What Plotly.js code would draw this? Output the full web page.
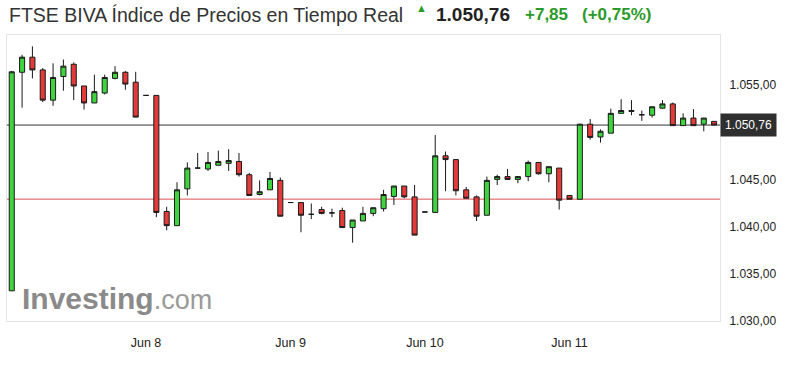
<!DOCTYPE html>
<html>
<head>
<meta charset="utf-8">
<script src="https://cdn.plot.ly/plotly-3.0.1.min.js"></script>
<style>
  html, body { margin: 0; padding: 0; background: #fff; }
  #chart { width: 795px; height: 369px; }
</style>
</head>
<body>
<div id="chart"></div>
<script>
// ---- Data (30-minute candles, Jun 5 – Jun 11) ----
const candleIndex = Array.from({length: 69}, (_, i) => i);
const openVals = [
  1033.2, 1056.35, 1057.95, 1056.6, 1053.4, 1055.9, 1057.2, 1054.9, 1053.1, 1054.15,
  1055.7, 1056.35, 1055.3, 1053.9, 1053.9, 1041.6, 1040.1, 1044.0, 1046.2, 1046.1,
  1046.5, 1046.7, 1046.9, 1045.5, 1043.4, 1043.9, 1044.9, 1042.55, 1042.55, 1041.3,
  1041.8, 1041.45, 1041.7, 1039.9, 1040.6, 1041.4, 1041.9, 1043.2, 1044.3, 1043.15,
  1041.55, 1041.5, 1047.5, 1047.1, 1043.9, 1043.15, 1041.2, 1045.0, 1045.3, 1045.0,
  1045.3, 1046.8, 1045.6, 1046.2, 1043.3, 1042.9, 1050.85, 1049.5, 1049.9, 1052.0,
  1052.2, 1051.85, 1051.8, 1052.55, 1053.0, 1050.7, 1051.5, 1050.85, 1051.15
];
const highVals = [
  1056.5, 1058.2, 1059.1, 1056.8, 1057.3, 1057.7, 1057.4, 1054.9, 1056.1, 1056.1,
  1057.0, 1056.5, 1056.4, 1053.9, 1053.9, 1042.1, 1044.7, 1046.8, 1047.8, 1047.9,
  1048.05, 1048.2, 1047.8, 1045.7, 1044.9, 1045.8, 1045.2, 1042.55, 1042.55, 1042.45,
  1042.1, 1041.9, 1042.0, 1040.7, 1042.1, 1042.0, 1043.9, 1044.3, 1044.3, 1044.4,
  1041.55, 1049.7, 1047.95, 1047.1, 1044.2, 1043.3, 1045.3, 1045.5, 1046.1, 1045.3,
  1047.0, 1046.8, 1046.35, 1046.2, 1043.3, 1050.9, 1051.4, 1050.3, 1052.5, 1053.5,
  1053.4, 1052.3, 1052.7, 1053.4, 1053.15, 1052.0, 1052.45, 1051.5, 1051.15
];
const lowVals = [
  1033.2, 1052.6, 1055.7, 1053.2, 1052.8, 1054.4, 1053.4, 1052.4, 1053.1, 1054.0,
  1055.6, 1054.5, 1051.6, 1053.9, 1041.0, 1039.6, 1040.1, 1043.3, 1046.2, 1045.9,
  1046.5, 1045.9, 1045.3, 1043.3, 1043.3, 1043.9, 1041.1, 1042.55, 1039.4, 1040.8,
  1041.3, 1041.0, 1039.9, 1038.3, 1040.6, 1041.1, 1041.6, 1042.3, 1043.0, 1039.1,
  1041.55, 1041.5, 1043.75, 1043.3, 1043.0, 1040.6, 1041.2, 1044.4, 1045.0, 1044.6,
  1044.8, 1045.5, 1044.7, 1041.8, 1042.9, 1042.9, 1049.2, 1048.9, 1049.9, 1052.0,
  1051.8, 1051.2, 1051.55, 1052.5, 1050.7, 1050.7, 1050.7, 1050.1, 1050.76
];
const closeVals = [
  1056.4, 1057.95, 1056.6, 1053.4, 1055.8, 1057.0, 1054.9, 1053.1, 1054.3, 1055.8,
  1056.35, 1055.1, 1051.6, 1053.9, 1041.5, 1040.1, 1043.9, 1046.2, 1046.2, 1046.8,
  1046.9, 1047.0, 1045.5, 1043.3, 1043.7, 1045.1, 1041.1, 1042.55, 1041.2, 1041.3,
  1041.4, 1041.45, 1039.9, 1040.7, 1041.4, 1042.0, 1043.4, 1044.3, 1043.15, 1039.1,
  1041.55, 1047.5, 1047.1, 1043.8, 1043.0, 1041.1, 1044.9, 1045.3, 1045.0, 1045.3,
  1046.8, 1045.6, 1046.35, 1042.8, 1042.9, 1050.85, 1049.45, 1050.1, 1052.0, 1052.3,
  1052.3, 1051.85, 1052.7, 1053.0, 1050.7, 1051.5, 1050.7, 1051.5, 1050.76
];

const tickIdx = [13, 27, 40, 54];
const tickLabels = ["Jun 8", "Jun 9", "Jun 10", "Jun 11"];
// 1.050,00 is hidden behind the last-price label in the reference
const yTicks = [1030, 1035, 1040, 1045, 1055];

const lastPrice = 1050.76;
const prevClose = 1042.91;
const changeText = "+7,85";
const changePctText = "(+0,75%)";
const lastPriceText = "1.050,76";
const titleText = "FTSE BIVA Índice de Precios en Tiempo Real";

// ---- Chart ----
const W = 795, H = 369;
const L = 7, R = 75, T = 35, B = 48;
const pw = W - L - R;
const px = (p) => (p - L) / pw;       // pixel x -> paper x
const ph = H - T - B;
const py = (p) => 1 - (p - T) / ph;   // pixel y -> paper y

const trace = {
  type: 'candlestick',
  x: candleIndex,
  open: openVals, high: highVals, low: lowVals, close: closeVals,
  increasing: { line: { color: '#1a1a1a', width: 1 }, fillcolor: '#3fd43f' },
  decreasing: { line: { color: '#1a1a1a', width: 1 }, fillcolor: '#e33a3a' },
  whiskerwidth: 0,
  hoverinfo: 'skip'
};

const layout = {
  width: W, height: H,
  margin: { l: L, r: R, t: T, b: B, pad: 0 },
  paper_bgcolor: '#ffffff',
  plot_bgcolor: '#ffffff',
  separators: ',.',
  showlegend: false,
  font: { family: 'Arial, "Liberation Sans", sans-serif', color: '#222', size: 12 },
  xaxis: {
    range: [-0.46, 68.57],
    rangeslider: { visible: false },
    showgrid: false, zeroline: false,
    tickmode: 'array', tickvals: tickIdx, ticktext: tickLabels,
    ticks: 'outside', ticklen: 10, tickcolor: 'rgba(0,0,0,0)',
    tickfont: { size: 12.5, color: '#222' },
    showline: true, linecolor: '#e4e4e4', linewidth: 1, mirror: true,
    fixedrange: true
  },
  yaxis: {
    side: 'right',
    range: [1030, 1060.3],
    showgrid: false, zeroline: false,
    tickmode: 'array', tickvals: yTicks,
    tickformat: ',.2f',
    ticks: 'outside', ticklen: 6, tickcolor: 'rgba(0,0,0,0)',
    tickfont: { size: 12, color: '#222' },
    showline: true, linecolor: '#e4e4e4', linewidth: 1, mirror: true,
    fixedrange: true
  },
  shapes: [
    { type: 'line', xref: 'paper', x0: 0, x1: 1, yref: 'y', y0: prevClose, y1: prevClose,
      line: { color: '#e05050', width: 1 }, layer: 'below' },
    { type: 'line', xref: 'paper', x0: 0, x1: 1, yref: 'y', y0: lastPrice, y1: lastPrice,
      line: { color: '#333333', width: 1 }, layer: 'below' }
  ],
  annotations: [
    // last price box
    { xref: 'paper', yref: 'y', x: 1, y: lastPrice, xanchor: 'left', yanchor: 'middle',
      text: lastPriceText, showarrow: false, bgcolor: '#2f2f2f', borderpad: 4,
      font: { color: '#ffffff', size: 12 } },
    // header
    { xref: 'paper', yref: 'paper', x: px(7), y: py(15), xanchor: 'left', yanchor: 'middle',
      text: titleText, showarrow: false, font: { size: 19.5, color: '#333' } },
    { xref: 'paper', yref: 'paper', x: px(421.5), y: py(8.5), xanchor: 'center', yanchor: 'middle',
      text: '▲', showarrow: false, font: { size: 11, color: '#2a9a2a' } },
    { xref: 'paper', yref: 'paper', x: px(434), y: py(15), xanchor: 'left', yanchor: 'middle',
      text: '<b>' + lastPriceText + '</b>', showarrow: false, font: { size: 19, color: '#222' } },
    { xref: 'paper', yref: 'paper', x: px(523), y: py(15), xanchor: 'left', yanchor: 'middle',
      text: '<b>' + changeText + '</b>', showarrow: false, font: { size: 17, color: '#2a9a2a' } },
    { xref: 'paper', yref: 'paper', x: px(580), y: py(15), xanchor: 'left', yanchor: 'middle',
      text: '<b>' + changePctText + '</b>', showarrow: false, font: { size: 17, color: '#2a9a2a' } },
    // watermark
    { xref: 'paper', yref: 'paper', x: px(20), y: py(298), xanchor: 'left', yanchor: 'middle',
      text: '<b>Investing</b><span style="font-size:27px;color:#9a9a9a">.com</span>', showarrow: false,
      font: { size: 30, color: '#8a8a8a', family: 'Arial, "Liberation Sans", sans-serif' } }
  ]
};

Plotly.newPlot('chart', [trace], layout, { staticPlot: true, displayModeBar: false });
</script>
</body>
</html>
